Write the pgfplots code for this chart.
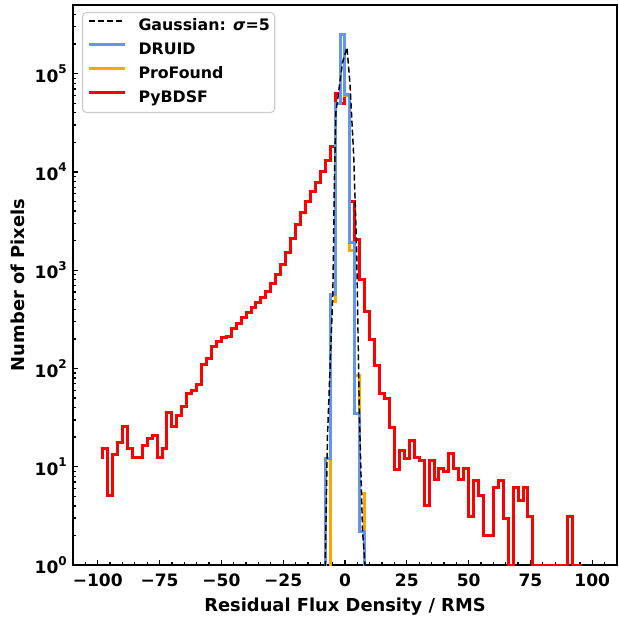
\documentclass[border=0pt]{standalone}
\usepackage{fontspec}
\setmainfont{DejaVu Sans}
\usepackage{pgfplots}
\pgfplotsset{compat=1.18}
\definecolor{druid}{RGB}{100,149,237}
\definecolor{profound}{RGB}{255,165,0}
\definecolor{pybdsf}{RGB}{255,0,0}
\newcommand\sups[1]{\raisebox{6.3pt}{\fontsize{9pt}{9pt}\selectfont #1}}
\begin{document}
\begin{tikzpicture}
\useasboundingbox (-54.75pt,-40.5pt) rectangle (409.5pt,423.75pt);
\begin{axis}[
  width=408pt, height=420pt, scale only axis,
  xmin=-110, xmax=110,
  ymode=log, ymin=1, ymax=5e5,
  axis line style={line width=1.5pt},
  tick align=inside, xtick pos=lower, ytick pos=left,
  major tick length=3.75pt, minor tick length=2.1pt,
  every tick/.style={black, line width=1pt},
  xtick={-100,-75,-50,-25,0,25,50,75,100},
  xticklabels={−100,−75,−50,−25,0,25,50,75,100},
  minor xtick={-105,-100,...,105},
  ytick={1,10,100,1000,10000,100000},
  yticklabels={10\sups{0},10\sups{1},10\sups{2},10\sups{3},10\sups{4},10\sups{5}},
  minor ytick={2,3,4,5,6,7,8,9,20,30,40,50,60,70,80,90,200,300,400,500,600,700,800,900,2000,3000,4000,5000,6000,7000,8000,9000,2e4,3e4,4e4,5e4,6e4,7e4,8e4,9e4,2e5,3e5,4e5},
  ticklabel style={font=\fontsize{12.8}{14}\selectfont\bfseries},
  xticklabel style={anchor=north, inner sep=0pt, yshift=-6.4pt},
  yticklabel style={anchor=east, inner sep=0pt, xshift=-4.5pt},
  xlabel={Residual Flux Density / RMS},
  ylabel={Number of Pixels},
  every axis x label/.style={at={(axis description cs:0.5,-0.0831)}, anchor=base,
    font=\fontsize{13.4}{16}\selectfont\bfseries},
  every axis y label/.style={at={(axis description cs:-0.09,0.5)}, rotate=90, anchor=base,
    font=\fontsize{13.4}{16}\selectfont\bfseries},
  legend image code/.code={\draw[#1] (0pt,4.3pt) -- (27pt,4.3pt);},
  legend cell align=left,
  legend style={at={(0.0165,0.9875)}, anchor=north west,
    font=\fontsize{11.85}{14}\selectfont\bfseries,
    draw=black!20, line width=0.8pt, rounded corners=3pt, fill=white,
    inner xsep=3.75pt, inner ysep=4.75pt, row sep=6.5pt, column sep=9pt,
    nodes={inner sep=0pt, text height=9pt, text depth=2.5pt}},
]
% PyBDSF
\addplot[pybdsf, line width=2.25pt, const plot mark left, forget plot] coordinates {
(-98,12) (-98,15.5) (-96,5.1) (-94,13.3) (-92,17.6) (-90,25.8) (-88,15.5) (-86,12.3) (-84,12.3)
(-82,16.5) (-80,19.6) (-78,20.6) (-76,12.3) (-74,15.5) (-72,35.3) (-70,25.8) (-68,33.4) (-66,41)
(-64,55) (-62,60) (-60,68) (-58,110) (-56,125) (-54,166) (-52,190) (-50,205) (-48,210) (-46,256)
(-44,290) (-42,330) (-40,370) (-38,420) (-36,470) (-34,530) (-32,610) (-30,740) (-28,900)
(-26,1150) (-24,1500) (-22,2100) (-20,2900) (-18,3900) (-16,5000) (-14,6300) (-12,7900)
(-10,10000) (-8,13000) (-6,18000) (-4,63000) (-2,50000) (0,60000) (2,5000) (4,2050) (6,800)
(8,380) (10,195) (12,108) (14,56) (16,49) (18,25) (20,9.3) (22,14.7) (24,12.2) (26,18.4)
(28,12.5) (30,11.5) (32,4.0) (34,11.6) (36,7.5) (38,9.5) (40,9) (42,13.6) (44,9.5) (46,7.5)
(48,9.5) (50,3.1) (52,7.3) (54,5.1) (56,2.0) (58,2.0) (60,6.2) (62,7.3) (64,3.0) (66,1)
(68,6.2) (70,4.5) (72,6.2) (74,3.1) (76,1) (78,1) (80,1) (82,1) (84,1) (86,1) (88,1)
(90,3.1) (92,1) (94,1) (96,1)
};
% ProFound
\addplot[profound, line width=2.25pt, const plot mark left, forget plot] coordinates {
(-6,0.5) (-6,480) (-4,50000) (-2,250000) (0,60000) (2,1600) (4,85) (6,5.3) (8,0.5)
};
% DRUID
\addplot[druid, line width=2.25pt, const plot mark left, forget plot] coordinates {
(-8,0.5) (-8,12) (-6,560) (-4,50000) (-2,250000) (0,62000) (2,1900) (4,35) (6,2.2) (8,0.5)
};
% Gaussian
\addplot[black, line width=1.1pt, dash pattern=on 4.5pt off 2.25pt, forget plot] coordinates {
(-9.5,0.05) (-8,1) (-7.1,20) (-4.9,600) (-4.3,8000) (-3.7,40000) (-1,130000) (0.8,185000)
(2,80000) (3.5,15000) (4.7,1700) (5.8,35) (7.1,2.2) (8.1,1) (9.5,0.1)
};
\addlegendimage{black, line width=1.1pt, dash pattern=on 4.5pt off 2.25pt}
\addlegendentry{Gaussian: \textit{σ}=5}
\addlegendimage{druid, line width=2.25pt}
\addlegendentry{DRUID}
\addlegendimage{profound, line width=2.25pt}
\addlegendentry{ProFound}
\addlegendimage{pybdsf, line width=2.25pt}
\addlegendentry{PyBDSF}
\end{axis}
\end{tikzpicture}
\end{document}
